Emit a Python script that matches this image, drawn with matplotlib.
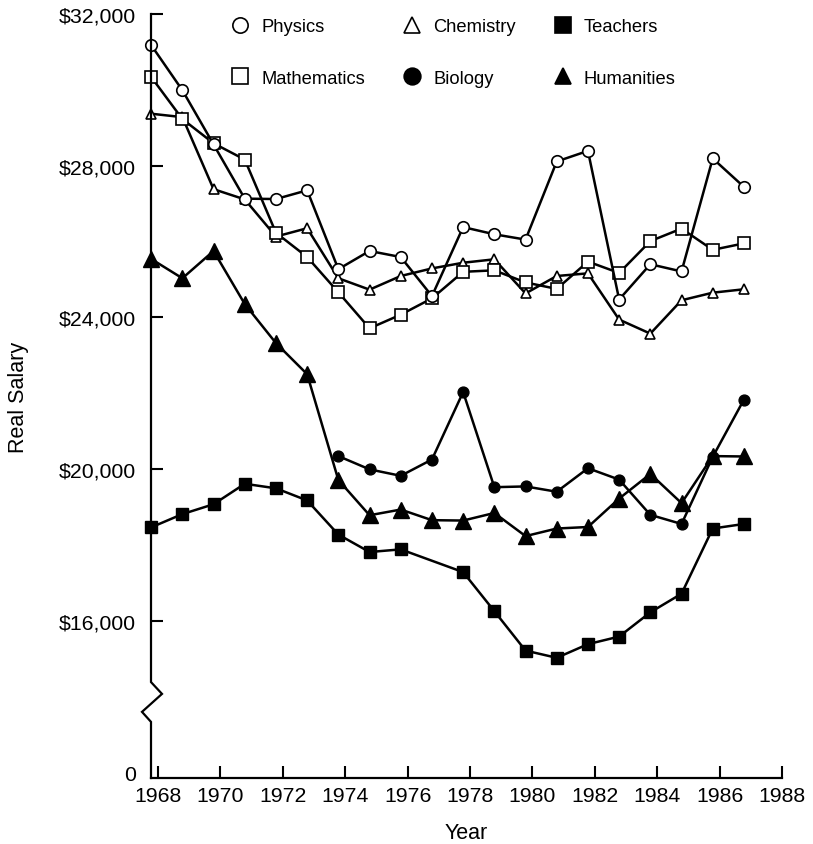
import numpy as np
import matplotlib
matplotlib.use("Agg")
import matplotlib.pyplot as plt
from matplotlib.lines import Line2D

plt.rcParams['font.family'] = ['Liberation Sans', 'DejaVu Sans']

# ---------------- data (real salary) ----------------
years = list(range(1968, 1988))
physics = [31180, 29990, 28560, 27130, 27120, 27350, 25270, 25750, 25590, 24560,
           26380, 26190, 26050, 28110, 28390, 24470, 25400, 25210, 28190, 27440]
mathematics = [30340, 29230, 28590, 28160, 26230, 25590, 24660, 23710, 24070, 24500,
               25200, 25240, 24920, 24750, 25470, 25170, 26010, 26340, 25780, 25950]
chemistry = [29370, 29280, 27380, 27110, 26130, 26350, 25030, 24730, 25090, 25290,
             25440, 25530, 24630, 25090, 25160, 23940, 23570, 24450, 24650, 24740]
humanities = [25540, 25030, 25750, 24350, 23320, 22500, 19710, 18780, 18930, 18650,
              18640, 18840, 18230, 18430, 18470, 19220, 19870, 19100, 20340, 20330]
biology_years = list(range(1974, 1988))
biology = [20340, 19990, 19820, 20250, 22030, 19520, 19540, 19400, 20020, 19720,
           18790, 18550, 20320, 21830]
teacher_years = [1968, 1969, 1970, 1971, 1972, 1973, 1974, 1975, 1976,
                 1978, 1979, 1980, 1981, 1982, 1983, 1984, 1985, 1986, 1987]
teachers = [18460, 18810, 19070, 19610, 19490, 19170, 18270, 17810, 17880,
            17280, 16250, 15210, 15020, 15380, 15580, 16220, 16710, 18430, 18550]

x_ticks = list(range(1968, 1989, 2))
y_ticks = [12000, 16000, 20000, 24000, 28000, 32000]
y_tick_labels = ['0', '$16,000', '$20,000', '$24,000', '$28,000', '$32,000']

# points are drawn slightly before the year tick, as in the original
SHIFT = -0.22

fig = plt.figure(figsize=(8.13, 8.45), dpi=100)
ax = fig.add_axes([151/813, 1 - 779/845, (782 - 151)/813, (779 - 15)/845])

YMIN, YMAX = 11850, 32000
ax.set_xlim(1967.775, 1988.0)
ax.set_ylim(YMIN, YMAX)

lw = 1.8
common = dict(color='black', lw=lw, clip_on=False, zorder=3)

def X(ys):
    return np.array(ys, dtype=float) + SHIFT

ax.plot(X(teacher_years), teachers, marker='s', ms=8.3, mfc='black', mec='black', **common)
ax.plot(X(years), humanities, marker='^', ms=12, mfc='black', mec='black', **common)
ax.plot(X(biology_years), biology, marker='o', ms=7.8, mfc='black', mec='black', **common)
ax.plot(X(years), chemistry, marker='^', ms=7.8, mfc='white', mec='black', mew=1.2, **common)
ax.plot(X(years), mathematics, marker='s', ms=8.3, mfc='white', mec='black', mew=1.2, **common)
ax.plot(X(years), physics, marker='o', ms=8.3, mfc='white', mec='black', mew=1.2, **common)

# axes styling
for s in ['top', 'right', 'left']:
    ax.spines[s].set_visible(False)
ax.spines['bottom'].set_linewidth(1.6)

# broken left axis drawn as one line with a zigzag
trans = ax.get_yaxis_transform()
dxr = 11 / 631
dxl = 9 / 631
ax.plot([0, 0, dxr, -dxl, 0, 0], [YMAX, 14380, 14068, 13594, 13330, YMIN],
        transform=trans, color='black', lw=1.6, clip_on=False, zorder=4,
        solid_joinstyle='miter')

ax.set_xticks(x_ticks)
ax.set_xticklabels([str(y) for y in x_ticks])
ax.set_yticks(y_ticks)
ax.set_yticklabels(y_tick_labels)
ax.tick_params(axis='both', direction='in', length=8.5, width=1.5,
               labelsize=15.3, colors='black')
ax.tick_params(axis='y', pad=11)
ax.tick_params(axis='x', pad=6)
ax.yaxis.get_major_ticks()[0].tick1line.set_visible(False)

ax.set_xlabel('Year', fontsize=15.5)
ax.set_ylabel('Real Salary', fontsize=15.5)
ax.xaxis.set_label_coords(0.5, -0.057)
ax.yaxis.set_label_coords(-0.193, 0.5)

# legend (markers only)
def H(marker, fc, ms):
    return Line2D([], [], linestyle='none', marker=marker, ms=ms,
                  mfc=fc, mec='black', mew=1.2)

handles = [H('o', 'white', 11), H('s', 'white', 11),
           H('^', 'white', 12), H('o', 'black', 12),
           H('s', 'black', 12), H('^', 'black', 12)]
labels = ['Physics', 'Mathematics', 'Chemistry', 'Biology', 'Teachers', 'Humanities']
leg = fig.legend(handles, labels, ncol=3, loc='upper left',
                 bbox_to_anchor=(230.6/813, 1 - 19/845),
                 bbox_transform=fig.transFigure, frameon=False,
                 fontsize=13.2, handlelength=1.0, handletextpad=0.67,
                 columnspacing=2.05, labelspacing=1.89, borderpad=0,
                 borderaxespad=0)

fig.savefig('out.png', dpi=100)
